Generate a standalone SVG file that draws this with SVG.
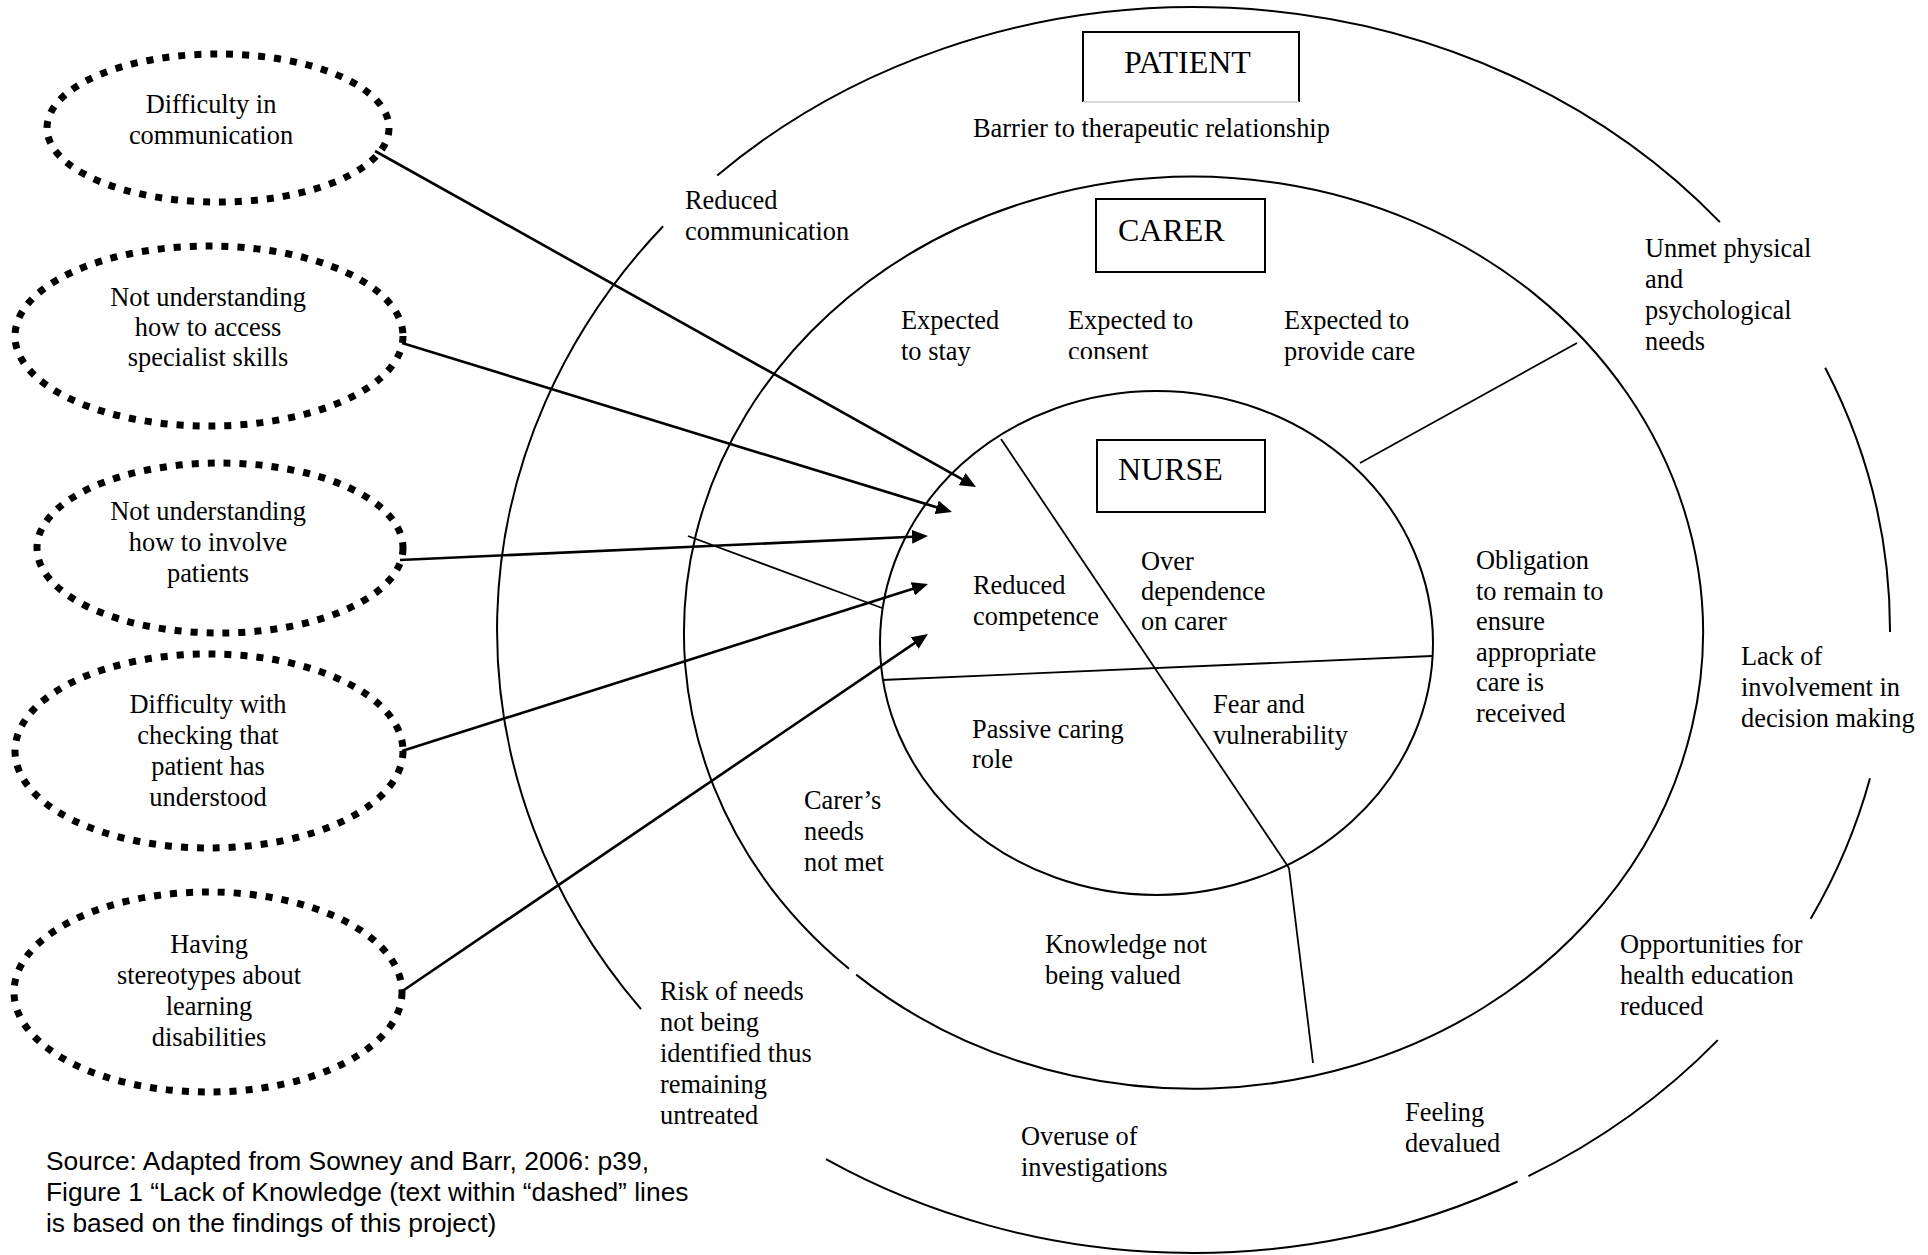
<svg xmlns="http://www.w3.org/2000/svg" width="1928" height="1255" viewBox="0 0 1928 1255">
  <style>
    .t { font-family: "Liberation Serif", "Times New Roman", serif; font-size: 26.4px; fill: #000; }
    .c { text-anchor: middle; }
    .h { font-size: 32px; }
    .src { font-family: "Liberation Sans", Arial, sans-serif; font-size: 26.4px; fill: #000; }
    .ring { fill: none; stroke: #000; stroke-width: 2; }
    .div { fill: none; stroke: #000; stroke-width: 1.8; }
    .box { fill: none; stroke: #000; stroke-width: 2; }
    .dot { fill: none; stroke: #000; stroke-width: 7; stroke-dasharray: 7 9; }
    .arrow { fill: none; stroke: #000; stroke-width: 2.6; marker-end: url(#ah); }
  </style>
  <defs>
    <marker id="ah" markerUnits="userSpaceOnUse" markerWidth="16" markerHeight="14" viewBox="0 0 16 14" refX="6" refY="7" orient="auto">
      <path d="M0,0 L16,7 L0,14 z" fill="#000"/>
    </marker>
    <!-- the text frame of this label cuts off the foot of its second line -->
    <clipPath id="consent-frame">
      <rect x="1060" y="300" width="140" height="59"/>
    </clipPath>
  </defs>
  <rect width="1928" height="1255" fill="#fff"/>

  <!-- Outer ring: patient, broken where its labels sit -->
  <g id="patient">
    <path class="ring" d="M 717.2 175.4 A 696.5 623 0 0 1 1719.9 222.1"/>
    <path class="ring" d="M 1825.2 367.7 A 696.5 623 0 0 1 1890 632"/>
    <path class="ring" d="M 1870.0 778.3 A 696.5 623 0 0 1 1810.7 918.8"/>
    <path class="ring" d="M 1717.8 1040.1 A 696.5 623 0 0 1 1528.4 1176.2"/>
    <path class="ring" d="M 1517.6 1181.5 A 696.5 623 0 0 1 826.0 1159.2"/>
    <path class="ring" d="M 641.0 1009.2 A 696.5 623 0 0 1 663.1 226.2"/>
    <path class="box" d="M 1083 102 V 32 H 1299 V 102"/>
    <line x1="1083" y1="102" x2="1299" y2="102" stroke="#ccc" stroke-width="1.5"/>
    <text class="t h" x="1124" y="73">PATIENT</text>
    <text class="t" x="973" y="137">Barrier to therapeutic relationship</text>
    <text class="t" x="685" y="209">Reduced<tspan x="685" dy="31">communication</tspan></text>
    <text class="t" x="1645" y="257">Unmet physical<tspan x="1645" dy="31">and</tspan><tspan x="1645" dy="31">psychological</tspan><tspan x="1645" dy="31">needs</tspan></text>
    <text class="t" x="1741" y="665">Lack of<tspan x="1741" dy="31">involvement in</tspan><tspan x="1741" dy="31">decision making</tspan></text>
    <text class="t" x="1620" y="953">Opportunities for<tspan x="1620" dy="31">health education</tspan><tspan x="1620" dy="31">reduced</tspan></text>
    <text class="t" x="1405" y="1121">Feeling<tspan x="1405" dy="31">devalued</tspan></text>
    <text class="t" x="1021" y="1145">Overuse of<tspan x="1021" dy="31">investigations</tspan></text>
    <text class="t" x="660" y="1000">Risk of needs<tspan x="660" dy="31">not being</tspan><tspan x="660" dy="31">identified thus</tspan><tspan x="660" dy="31">remaining</tspan><tspan x="660" dy="31">untreated</tspan></text>
  </g>

  <!-- Middle ring: carer -->
  <g id="carer">
    <path class="ring" d="M 849.0 968.8 A 509.5 456 0 1 1 856.2 974.6"/>
    <rect class="box" x="1096" y="199" width="169" height="73"/>
    <text class="t h" x="1118" y="241">CARER</text>
    <text class="t" x="901" y="329">Expected<tspan x="901" dy="31">to stay</tspan></text>
    <text class="t" x="1068" y="329" clip-path="url(#consent-frame)">Expected to<tspan x="1068" dy="31">consent</tspan></text>
    <text class="t" x="1284" y="329">Expected to<tspan x="1284" dy="31">provide care</tspan></text>
    <text class="t" x="1476" y="569">Obligation<tspan x="1476" dy="30.6">to remain to</tspan><tspan x="1476" dy="30.6">ensure</tspan><tspan x="1476" dy="30.6">appropriate</tspan><tspan x="1476" dy="30.6">care is</tspan><tspan x="1476" dy="30.6">received</tspan></text>
    <text class="t" x="804" y="809">Carer’s<tspan x="804" dy="31">needs</tspan><tspan x="804" dy="31">not met</tspan></text>
    <text class="t" x="1045" y="953">Knowledge not<tspan x="1045" dy="31">being valued</tspan></text>
  </g>

  <!-- Inner ring: nurse, split into quadrants -->
  <g id="nurse">
    <ellipse class="ring" cx="1156.5" cy="643" rx="276.5" ry="252"/>
    <line class="div" x1="1001" y1="439" x2="1289" y2="868"/>
    <line class="div" x1="882" y1="680" x2="1432" y2="656"/>
    <rect class="box" x="1097" y="440" width="168" height="72"/>
    <text class="t h" x="1118" y="480">NURSE</text>
    <text class="t" x="973" y="594">Reduced<tspan x="973" dy="31">competence</tspan></text>
    <text class="t" x="1141" y="570">Over<tspan x="1141" dy="30">dependence</tspan><tspan x="1141" dy="30">on carer</tspan></text>
    <text class="t" x="972" y="738">Passive caring<tspan x="972" dy="30">role</tspan></text>
    <text class="t" x="1213" y="713">Fear and<tspan x="1213" dy="31">vulnerability</tspan></text>
  </g>

  <!-- Radial dividers between the rings -->
  <g id="dividers">
    <line class="div" x1="1289" y1="868" x2="1313" y2="1063"/>
    <line class="div" x1="1360" y1="463" x2="1577" y2="343"/>
    <line class="div" x1="688" y1="536" x2="882" y2="608"/>
  </g>

  <!-- Findings, each in a dotted ellipse -->
  <g id="finding-communication">
    <ellipse class="dot" cx="218" cy="128" rx="171" ry="74"/>
    <text class="t c" x="211" y="113">Difficulty in<tspan x="211" dy="31">communication</tspan></text>
  </g>
  <g id="finding-access">
    <ellipse class="dot" cx="209" cy="336" rx="194" ry="90"/>
    <text class="t c" x="208" y="306">Not understanding<tspan x="208" dy="30">how to access</tspan><tspan x="208" dy="30">specialist skills</tspan></text>
  </g>
  <g id="finding-involve">
    <ellipse class="dot" cx="220" cy="548" rx="183" ry="85"/>
    <text class="t c" x="208" y="520">Not understanding<tspan x="208" dy="31">how to involve</tspan><tspan x="208" dy="31">patients</tspan></text>
  </g>
  <g id="finding-checking">
    <ellipse class="dot" cx="209" cy="751" rx="194" ry="97"/>
    <text class="t c" x="208" y="713">Difficulty with<tspan x="208" dy="31">checking that</tspan><tspan x="208" dy="31">patient has</tspan><tspan x="208" dy="31">understood</tspan></text>
  </g>
  <g id="finding-stereotypes">
    <ellipse class="dot" cx="208" cy="992" rx="194" ry="100"/>
    <text class="t c" x="209" y="953">Having<tspan x="209" dy="31">stereotypes about</tspan><tspan x="209" dy="31">learning</tspan><tspan x="209" dy="31">disabilities</tspan></text>
  </g>

  <!-- Connectors from findings into the nurse ring -->
  <g id="connectors">
    <line class="arrow" x1="375" y1="151" x2="967.3" y2="482.1"/>
    <line class="arrow" x1="402" y1="343" x2="942.4" y2="509.1"/>
    <line class="arrow" x1="400" y1="560" x2="918.0" y2="536.5"/>
    <line class="arrow" x1="402" y1="751" x2="918.5" y2="587.0"/>
    <line class="arrow" x1="401" y1="992" x2="919.7" y2="639.6"/>
  </g>

  <g id="source">
    <text class="src" x="46" y="1170">Source: Adapted from Sowney and Barr, 2006: p39,<tspan x="46" dy="31">Figure 1 “Lack of Knowledge (text within “dashed” lines</tspan><tspan x="46" dy="31">is based on the findings of this project)</tspan></text>
  </g>
</svg>
